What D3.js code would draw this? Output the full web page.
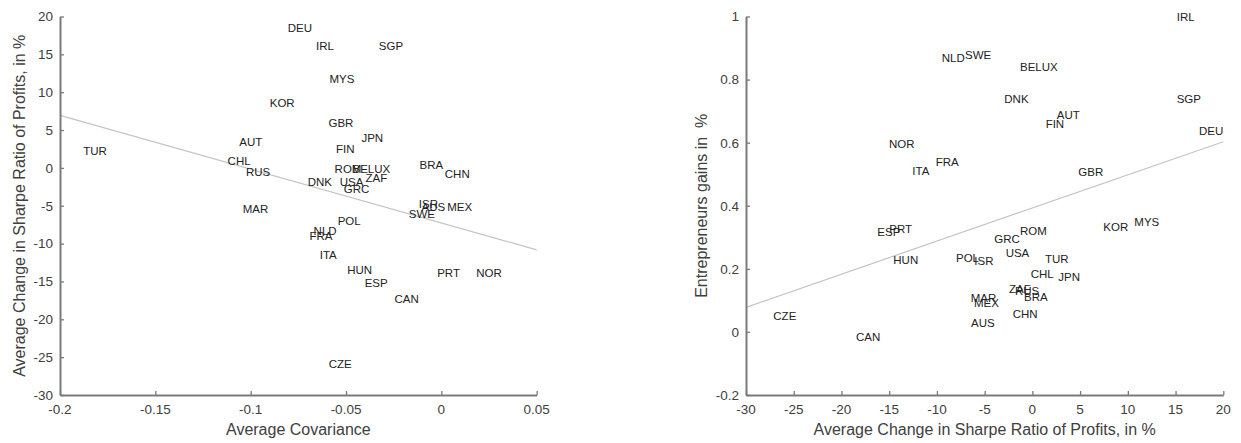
<!DOCTYPE html>
<html>
<head>
<meta charset="utf-8">
<script src="https://cdn.jsdelivr.net/npm/d3@7"></script>
<style>
  html, body { margin: 0; padding: 0; background: #fff; }
  svg { display: block; font-family: "Liberation Sans", Arial, sans-serif; }
</style>
</head>
<body>
<svg id="chart" width="1241" height="443"></svg>
<script>
// ---------- Left panel data ----------
const leftCountries = ["TUR","AUT","CHL","RUS","MAR","KOR","DEU","IRL","SGP","MYS","GBR","JPN","FIN","ROM","BELUX","DNK","USA","ZAF","GRC","BRA","CHN","ISR","AUS","SWE","MEX","POL","NLD","FRA","ITA","HUN","ESP","CAN","PRT","NOR","CZE"];
const leftCovariance = [-0.1878,-0.106,-0.1121,-0.1025,-0.1042,-0.090,-0.0806,-0.0657,-0.0328,-0.0587,-0.0592,-0.0419,-0.0552,-0.0560,-0.0466,-0.0701,-0.0533,-0.0398,-0.0512,-0.0114,0.0018,-0.0118,-0.0104,-0.0171,0.0031,-0.0544,-0.0670,-0.0692,-0.0638,-0.0494,-0.0402,-0.0246,-0.0022,0.0183,-0.0591];
const leftSharpe = [2.31,3.5,0.99,-0.46,-5.44,8.58,18.5,16.16,16.16,11.8,5.98,4.0,2.45,-0.15,-0.1,-1.79,-1.79,-1.34,-2.75,0.46,-0.81,-4.78,-5.13,-6.1,-5.13,-6.94,-8.27,-8.97,-11.48,-13.47,-15.15,-17.34,-13.82,-13.82,-25.94];
const leftFitX = [-0.2, 0.05];
const leftFitY = [6.94, -10.82];
const leftXTicks = [-0.2,-0.15,-0.1,-0.05,0,0.05];
const leftXTickLabels = ["-0.2","-0.15","-0.1","-0.05","0","0.05"];
const leftYTicks = [-30,-25,-20,-15,-10,-5,0,5,10,15,20];
const leftYTickLabels = ["-30","-25","-20","-15","-10","-5","0","5","10","15","20"];
const leftXTitle = "Average Covariance";
const leftYTitle = "Average Change in Sharpe Ratio of Profits, in %";

// ---------- Right panel data ----------
const rightCountries = ["IRL","NLD","SWE","BELUX","DNK","AUT","FIN","SGP","DEU","NOR","FRA","ITA","GBR","ESP","PRT","ROM","GRC","KOR","MYS","USA","HUN","POL","ISR","TUR","CHL","JPN","ZAF","RUS","BRA","MAR","MEX","CHN","AUS","CZE","CAN"];
const rightSharpe = [15.12,-9.5,-7.06,-1.30,-2.94,2.55,1.39,15.12,17.45,-15.02,-10.13,-12.58,4.81,-16.24,-14.99,-1.30,-3.99,7.43,10.68,-2.80,-14.57,-8.0,-6.08,1.32,-0.18,2.72,-2.45,-1.82,-0.88,-6.46,-6.12,-2.06,-6.43,-27.14,-18.48];
const rightGains = [1.0,0.87,0.879,0.84,0.739,0.687,0.659,0.739,0.637,0.595,0.54,0.511,0.506,0.318,0.326,0.32,0.294,0.333,0.348,0.252,0.228,0.234,0.225,0.233,0.184,0.173,0.138,0.130,0.112,0.109,0.091,0.057,0.029,0.051,-0.015];
const rightFitX = [-30, 20];
const rightFitY = [0.078, 0.603];
const rightXTicks = [-30,-25,-20,-15,-10,-5,0,5,10,15,20];
const rightXTickLabels = ["-30","-25","-20","-15","-10","-5","0","5","10","15","20"];
const rightYTicks = [-0.2,0,0.2,0.4,0.6,0.8,1];
const rightYTickLabels = ["-0.2","0","0.2","0.4","0.6","0.8","1"];
const rightXTitle = "Average Change in Sharpe Ratio of Profits, in %";
const rightYTitle = "Entrepreneurs gains in  %";

const svg = d3.select("#chart");

function panel(cfg) {
  const x = d3.scaleLinear().domain(cfg.xDomain).range([cfg.x0, cfg.x1]);
  const y = d3.scaleLinear().domain(cfg.yDomain).range([cfg.y1, cfg.y0]);
  const g = svg.append("g");

  // regression line
  g.append("line")
    .attr("x1", x(cfg.fitX[0])).attr("y1", y(cfg.fitY[0]))
    .attr("x2", x(cfg.fitX[1])).attr("y2", y(cfg.fitY[1]))
    .attr("stroke", "#c4c4c4").attr("stroke-width", 1.2);

  // axes (ticks inward)
  const xAxis = d3.axisTop(x).tickValues(cfg.xTicks)
    .tickFormat((d, i) => "").tickSizeOuter(0).tickSizeInner(4);
  const xg = g.append("g").attr("transform", `translate(0,${cfg.y1})`).call(xAxis);
  const yAxis = d3.axisRight(y).tickValues(cfg.yTicks)
    .tickFormat((d, i) => "").tickSizeOuter(0).tickSizeInner(4);
  const yg = g.append("g").attr("transform", `translate(${cfg.x0},0)`).call(yAxis);
  [xg, yg].forEach(a => {
    a.select(".domain").attr("stroke", "#7a7a7a").attr("stroke-width", 2);
    a.selectAll(".tick line").attr("stroke", "#7a7a7a").attr("stroke-width", 1.3);
  });

  // tick labels
  g.selectAll(".xtl").data(cfg.xTicks).enter().append("text")
    .attr("x", d => x(d)).attr("y", cfg.y1 + 19)
    .attr("text-anchor", "middle").attr("font-size", 13.5).attr("fill", "#404040")
    .text((d, i) => cfg.xTickLabels[i]);
  g.selectAll(".ytl").data(cfg.yTicks).enter().append("text")
    .attr("x", cfg.x0 - 7).attr("y", d => y(d)).attr("dy", "0.36em")
    .attr("text-anchor", "end").attr("font-size", 13.5).attr("fill", "#404040")
    .text((d, i) => cfg.yTickLabels[i]);

  // axis titles
  g.append("text")
    .attr("x", (cfg.x0 + cfg.x1) / 2).attr("y", cfg.y1 + 40)
    .attr("text-anchor", "middle").attr("font-size", 16).attr("fill", "#404040")
    .style("white-space", "pre")
    .text(cfg.xTitle);
  g.append("text")
    .attr("transform", `translate(${cfg.yTitleX},${(cfg.y0 + cfg.y1) / 2}) rotate(-90)`)
    .attr("text-anchor", "middle").attr("font-size", 16).attr("fill", "#404040")
    .style("white-space", "pre")
    .text(cfg.yTitle);

  // country labels (left-aligned, vertically centred on point)
  g.selectAll(".lab").data(cfg.names).enter().append("text")
    .attr("x", (d, i) => x(cfg.xs[i])).attr("y", (d, i) => y(cfg.ys[i]))
    .attr("dy", "0.36em").attr("font-size", 11.5).attr("fill", "#222")
    .text(d => d);
}

panel({
  xDomain: [-0.2, 0.05], yDomain: [-30, 20],
  x0: 60, x1: 536.7, y0: 16.5, y1: 395,
  fitX: leftFitX, fitY: leftFitY,
  xTicks: leftXTicks, xTickLabels: leftXTickLabels,
  yTicks: leftYTicks, yTickLabels: leftYTickLabels,
  xTitle: leftXTitle, yTitle: leftYTitle, yTitleX: 25,
  names: leftCountries, xs: leftCovariance, ys: leftSharpe
});

panel({
  xDomain: [-30, 20], yDomain: [-0.2, 1],
  x0: 746, x1: 1223.3, y0: 16.5, y1: 395,
  fitX: rightFitX, fitY: rightFitY,
  xTicks: rightXTicks, xTickLabels: rightXTickLabels,
  yTicks: rightYTicks, yTickLabels: rightYTickLabels,
  xTitle: rightXTitle, yTitle: rightYTitle, yTitleX: 707,
  names: rightCountries, xs: rightSharpe, ys: rightGains
});
</script>
</body>
</html>
